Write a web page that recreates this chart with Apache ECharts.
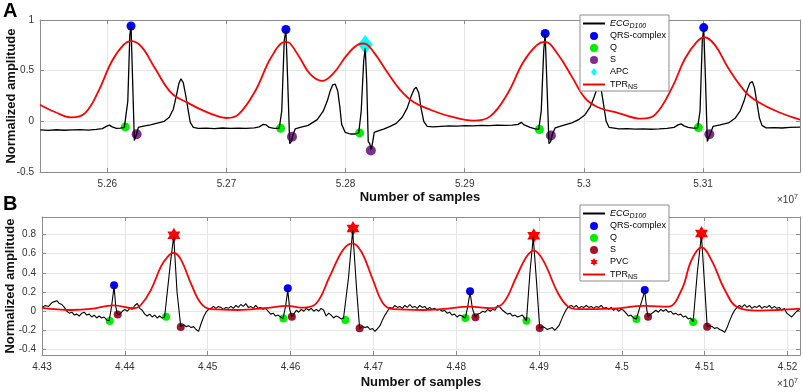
<!DOCTYPE html>
<html>
<head>
<meta charset="utf-8">
<script src="https://cdn.jsdelivr.net/npm/echarts@6/dist/echarts.min.js"></script>
<style>html,body{margin:0;padding:0;background:#fff}#chart{width:803px;height:392px}</style>
</head>
<body>
<div id="chart"></div>
<script>
// x values are in units of 10^7 samples

// ---- panel A ----
const xTicksA = [5.26, 5.27, 5.28, 5.29, 5.30, 5.31];
const yTicksA = [-0.5, 0, 0.5, 1];
const ecgA = [
  [5.25438,-0.085],[5.25505,-0.09],[5.25572,-0.083],[5.25639,-0.088],[5.25706,-0.085],[5.25773,-0.082],[5.25841,-0.086],[5.25908,-0.08],
  [5.25958,-0.072],[5.25992,-0.05],[5.26017,-0.038],[5.26042,-0.055],[5.26076,-0.07],[5.26109,-0.068],[5.26143,-0.06],[5.26159,-0.05],
  [5.26172,0.2],[5.26189,0.85],[5.26199,0.935],[5.26210,0.5],[5.26227,-0.19],[5.26237,-0.2],[5.26247,-0.12],[5.26260,-0.06],
  [5.26294,-0.05],[5.26361,-0.035],[5.26428,-0.015],[5.26478,0.0],[5.26520,0.04],[5.26554,0.12],[5.26579,0.25],[5.26600,0.37],
  [5.26618,0.42],[5.26638,0.38],[5.26659,0.25],[5.26680,0.1],[5.26696,-0.01],[5.26722,-0.06],[5.26763,-0.07],[5.26831,-0.068],
  [5.26898,-0.072],[5.26965,-0.066],[5.27032,-0.07],[5.27099,-0.067],[5.27166,-0.069],[5.27233,-0.065],[5.27275,-0.055],[5.27309,-0.03],
  [5.27334,-0.035],[5.27359,-0.06],[5.27401,-0.07],[5.27443,-0.068],[5.27464,0.1],[5.27485,0.8],[5.27499,0.9],[5.27514,0.4],
  [5.27531,-0.22],[5.27544,-0.2],[5.27556,-0.14],[5.27577,-0.075],[5.27619,-0.06],[5.27686,-0.04],[5.27762,0.017],[5.27812,0.1],
  [5.27846,0.2],[5.27871,0.3],[5.27892,0.36],[5.27913,0.367],[5.27934,0.3],[5.27951,0.15],[5.27967,-0.03],[5.27997,-0.11],
  [5.28039,-0.125],[5.28081,-0.125],[5.28110,-0.115],[5.28131,0.1],[5.28152,0.6],[5.28165,0.72],[5.28177,0.4],[5.28190,-0.2],
  [5.28203,-0.22],[5.28215,-0.28],[5.28228,-0.2],[5.28240,-0.11],[5.28274,-0.095],[5.28324,-0.075],[5.28374,-0.05],[5.28425,-0.02],
  [5.28475,0.04],[5.28517,0.13],[5.28551,0.25],[5.28576,0.32],[5.28593,0.337],[5.28614,0.28],[5.28635,0.12],[5.28656,0.0],
  [5.28685,-0.05],[5.28735,-0.055],[5.28802,-0.05],[5.28869,-0.045],[5.28936,-0.048],[5.29004,-0.042],[5.29071,-0.045],[5.29138,-0.04],
  [5.29205,-0.043],[5.29272,-0.038],[5.29339,-0.04],[5.29398,-0.037],[5.29448,-0.03],[5.29474,-0.01],[5.29499,-0.035],[5.29549,-0.06],
  [5.29591,-0.075],[5.29621,-0.08],[5.29642,0.1],[5.29663,0.7],[5.29675,0.86],[5.29692,0.3],[5.29707,-0.22],[5.29721,-0.2],
  [5.29734,-0.13],[5.29759,-0.065],[5.29826,-0.04],[5.29899,-0.016],[5.29960,0.02],[5.30010,0.066],[5.30052,0.14],[5.30086,0.24],
  [5.30115,0.34],[5.30136,0.38],[5.30161,0.2],[5.30187,0.0],[5.30212,-0.06],[5.30295,-0.075],[5.30363,-0.072],[5.30430,-0.077],
  [5.30497,-0.074],[5.30564,-0.078],[5.30631,-0.075],[5.30698,-0.07],[5.30757,-0.06],[5.30791,-0.035],[5.30816,-0.025],[5.30841,-0.045],
  [5.30875,-0.06],[5.30917,-0.068],[5.30954,-0.065],[5.30975,0.1],[5.30994,0.8],[5.31006,0.915],[5.31021,0.4],[5.31036,-0.2],
  [5.31049,-0.19],[5.31062,-0.12],[5.31084,-0.05],[5.31143,-0.035],[5.31213,-0.016],[5.31269,0.03],[5.31311,0.1],[5.31344,0.2],
  [5.31374,0.32],[5.31395,0.38],[5.31414,0.392],[5.31432,0.33],[5.31453,0.18],[5.31474,0.03],[5.31495,-0.04],[5.31529,-0.065],
  [5.31596,-0.062],[5.31663,-0.066],[5.31730,-0.06],[5.31814,-0.058]
];
const tprA = [
  [5.25435,0.164],[5.25561,0.092],[5.25700,0.039],[5.25813,0.082],[5.25924,0.294],[5.26036,0.588],[5.26134,0.752],[5.26199,0.791],
  [5.26288,0.735],[5.26400,0.523],[5.26539,0.278],[5.26680,0.18],[5.26820,0.098],[5.26931,0.049],[5.27001,0.033],[5.27099,0.066],
  [5.27239,0.294],[5.27378,0.637],[5.27496,0.784],[5.27535,0.768],[5.27619,0.62],[5.27703,0.465],[5.27801,0.399],[5.27899,0.475],
  [5.28011,0.654],[5.28108,0.759],[5.28156,0.768],[5.28234,0.686],[5.28347,0.49],[5.28458,0.31],[5.28570,0.19],[5.28710,0.115],
  [5.28878,0.049],[5.29073,0.007],[5.29213,0.049],[5.29354,0.262],[5.29493,0.588],[5.29605,0.752],[5.29675,0.784],[5.29786,0.654],
  [5.29899,0.441],[5.30010,0.229],[5.30122,0.137],[5.30290,0.082],[5.30486,0.026],[5.30598,0.066],[5.30738,0.327],[5.30849,0.62],
  [5.30948,0.784],[5.31011,0.83],[5.31101,0.752],[5.31213,0.523],[5.31353,0.294],[5.31464,0.19],[5.31632,0.092],[5.31814,0.017]
];
const qrsA = [[5.26199,0.941],[5.27499,0.906],[5.29675,0.867],[5.31006,0.925]];
const qA = [[5.26151,-0.055],[5.27454,-0.068],[5.28117,-0.114],[5.29627,-0.081],[5.30961,-0.062]];
const sA = [[5.26246,-0.127],[5.27550,-0.153],[5.28212,-0.287],[5.29723,-0.14],[5.31053,-0.127]];
const apcA = [[5.28165,0.759]];

// ---- panel B ----
const xTicksB = [4.43, 4.44, 4.45, 4.46, 4.47, 4.48, 4.49, 4.50, 4.51, 4.52];
const yTicksB = [-0.4, -0.2, 0, 0.2, 0.4, 0.6, 0.8];
const ecgB = [
  [4.4300,0.04],[4.4304,0.06],[4.4308,0.05],[4.4312,0.09],[4.4315,0.1],[4.4318,0.11],[4.4321,0.08],[4.4324,0.07],[4.4327,0.04],[4.4330,0.0],
  [4.4333,-0.02],[4.4336,-0.01],[4.4339,-0.04],[4.4342,-0.03],[4.4345,-0.05],[4.4348,-0.02],[4.4351,-0.01],[4.4354,-0.04],[4.4357,-0.03],[4.4360,-0.06],
  [4.4363,-0.04],[4.4366,-0.07],[4.4369,-0.05],[4.4372,-0.07],[4.4375,-0.06],[4.4378,-0.09],[4.4381,-0.1],[4.4384,0.05],[4.4387,0.26],[4.4389,0.05],
  [4.4391,-0.03],[4.4394,-0.03],[4.4397,0.0],[4.4400,0.02],[4.4403,0.0],[4.4406,0.03],[4.4409,0.02],[4.4412,0.06],[4.4415,0.08],[4.4418,0.03],
  [4.4421,0.01],[4.4424,-0.03],[4.4427,-0.05],[4.4430,-0.03],[4.4433,-0.06],[4.4436,-0.04],[4.4439,-0.07],[4.4442,-0.05],[4.4445,-0.07],[4.4448,-0.06],
  [4.4450,-0.058],[4.4455,0.5],[4.4459,0.78],[4.4463,0.2],[4.44675,-0.16],[4.4471,-0.14],[4.4474,-0.16],[4.4477,-0.15],[4.4480,-0.17],[4.4483,-0.16],
  [4.4486,-0.19],[4.4489,-0.21],[4.4492,-0.13],[4.4495,-0.06],[4.4498,-0.01],[4.4501,0.02],[4.4504,0.03],[4.4507,0.05],[4.4510,0.03],[4.4513,0.05],
  [4.4516,0.04],[4.4519,0.02],[4.4522,0.04],[4.4525,0.03],[4.4528,0.05],[4.4531,0.03],[4.4534,0.06],[4.4537,0.04],[4.4540,0.07],[4.4543,0.05],
  [4.4546,0.08],[4.4549,0.04],[4.4552,0.05],[4.4555,0.03],[4.4558,0.06],[4.4561,0.03],[4.4564,0.04],[4.4567,0.02],[4.4570,0.03],[4.4573,0.0],
  [4.4576,-0.03],[4.4579,-0.02],[4.4582,-0.05],[4.4585,-0.04],[4.4588,-0.06],[4.4591,-0.075],[4.4594,0.05],[4.45967,0.22],[4.4599,0.02],[4.46015,-0.058],
  [4.4604,-0.03],[4.4607,0.01],[4.4610,-0.01],[4.4613,0.02],[4.4616,0.0],[4.4619,0.03],[4.4622,0.01],[4.4625,0.03],[4.4628,0.0],[4.4631,0.02],
  [4.4634,0.0],[4.4637,0.03],[4.4640,0.01],[4.4643,-0.05],[4.4646,-0.02],[4.4649,-0.04],[4.4652,-0.07],[4.4655,-0.05],[4.4658,-0.06],[4.4661,-0.08],
  [4.4664,-0.07],[4.46662,-0.09],[4.4670,0.35],[4.4675,0.84],[4.4680,0.2],[4.46834,-0.176],[4.4687,-0.16],[4.4690,-0.17],[4.4693,-0.16],[4.4696,-0.19],
  [4.4699,-0.18],[4.4702,-0.21],[4.4705,-0.18],[4.4708,-0.15],[4.4711,-0.09],[4.4714,-0.04],[4.4717,0.0],[4.4720,0.04],[4.4723,0.03],[4.4726,0.06],
  [4.4729,0.04],[4.4732,0.05],[4.4735,0.03],[4.4738,0.06],[4.4741,0.04],[4.4744,0.07],[4.4747,0.04],[4.4750,0.05],[4.4753,0.03],[4.4756,0.06],
  [4.4759,0.04],[4.4762,0.05],[4.4765,0.02],[4.4768,0.04],[4.4771,0.02],[4.4774,0.03],[4.4777,0.01],[4.4780,0.02],[4.4783,0.0],[4.4786,0.01],
  [4.4789,-0.02],[4.4792,-0.01],[4.4795,-0.04],[4.4798,-0.03],[4.4801,-0.06],[4.4804,-0.04],[4.4807,-0.05],[4.4811,-0.07],[4.4814,0.05],[4.48167,0.2],
  [4.48195,0.03],[4.4823,-0.06],[4.4826,-0.03],[4.4829,-0.02],[4.4832,0.0],[4.4835,-0.01],[4.4838,0.02],[4.4841,0.0],[4.4844,0.02],[4.4847,0.01],
  [4.4850,0.06],[4.4853,0.04],[4.4856,0.01],[4.4859,-0.01],[4.4862,-0.03],[4.4865,-0.02],[4.4868,-0.05],[4.4871,-0.04],[4.4874,-0.06],[4.4877,-0.05],
  [4.4880,-0.04],[4.48848,-0.1],[4.4889,0.4],[4.4893,0.77],[4.4897,0.3],[4.49008,-0.173],[4.4904,-0.16],[4.4907,-0.17],[4.4910,-0.19],[4.4913,-0.18],
  [4.4916,-0.17],[4.4919,-0.2],[4.4921,-0.22],[4.4924,-0.15],[4.4927,-0.09],[4.4930,-0.03],[4.4933,0.02],[4.4936,0.05],[4.4939,0.06],[4.4942,0.04],
  [4.4945,0.06],[4.4948,0.03],[4.4951,0.05],[4.4954,0.04],[4.4957,0.06],[4.4960,0.04],[4.4963,0.05],[4.4966,0.03],[4.4969,0.05],[4.4972,0.04],
  [4.4975,0.06],[4.4978,0.03],[4.4981,0.04],[4.4984,0.02],[4.4987,0.04],[4.4990,0.01],[4.4993,0.03],[4.4996,0.0],[4.4999,0.02],[4.5002,0.01],
  [4.5005,-0.02],[4.5008,-0.05],[4.5011,-0.04],[4.5014,-0.07],[4.50176,-0.08],[4.5022,0.05],[4.50276,0.21],[4.5030,0.02],[4.50316,-0.056],[4.5035,-0.03],
  [4.5038,-0.01],[4.5041,0.01],[4.5044,-0.01],[4.5047,0.02],[4.5050,0.0],[4.5053,0.02],[4.5056,-0.01],[4.5059,0.0],[4.5062,-0.03],[4.5065,-0.02],
  [4.5068,-0.04],[4.5071,-0.03],[4.5074,-0.06],[4.5077,-0.05],[4.5080,-0.08],[4.5083,-0.07],[4.5086,-0.11],[4.5091,0.4],[4.5096,0.79],[4.5100,0.25],
  [4.5103,-0.16],[4.5106,-0.15],[4.5109,-0.16],[4.5112,-0.18],[4.5115,-0.17],[4.5118,-0.19],[4.5121,-0.2],[4.5124,-0.22],[4.5127,-0.17],[4.5130,-0.1],
  [4.5133,-0.04],[4.5136,0.01],[4.5139,0.04],[4.5142,0.06],[4.5145,0.04],[4.5148,0.07],[4.5151,0.04],[4.5154,0.06],[4.5157,0.03],[4.5160,0.05],
  [4.5163,0.04],[4.5166,0.06],[4.5169,0.03],[4.5172,0.05],[4.5175,0.04],[4.5178,0.06],[4.5181,0.03],[4.5184,0.05],[4.5187,0.03],[4.5190,0.04],
  [4.5193,0.01],[4.5196,0.03],[4.5199,-0.02],[4.5202,-0.04],[4.5205,-0.06],[4.5208,-0.03],[4.5211,0.0],[4.5215,0.02]
];
const tprB = [
  [4.43000,0.035],[4.43348,0.013],[4.43589,0.024],[4.43864,0.062],[4.44114,0.031],[4.44193,0.065],[4.44314,0.22],[4.44435,0.463],
  [4.44516,0.566],[4.44588,0.608],[4.44676,0.539],[4.44797,0.29],[4.44918,0.083],[4.45039,0.021],[4.45361,0.013],[4.45684,0.031],
  [4.45965,0.055],[4.46150,0.037],[4.46312,0.083],[4.46472,0.359],[4.46633,0.636],[4.46746,0.705],[4.46855,0.618],[4.46995,0.325],
  [4.47116,0.083],[4.47237,0.021],[4.47599,0.013],[4.47841,0.024],[4.48163,0.048],[4.48404,0.031],[4.48565,0.083],[4.48727,0.359],
  [4.48848,0.566],[4.48936,0.63],[4.49048,0.532],[4.49229,0.187],[4.49350,0.048],[4.49471,0.021],[4.49874,0.027],[4.50276,0.055],
  [4.50558,0.048],[4.50720,0.221],[4.50840,0.532],[4.50961,0.664],[4.51082,0.532],[4.51243,0.221],[4.51403,0.037],[4.51645,0.006],
  [4.51886,0.013],[4.52148,0.027]
];
const qrsB = [[4.43870,0.27],[4.45967,0.238],[4.48167,0.207],[4.50276,0.221]];
const qB = [[4.43818,-0.102],[4.44498,-0.058],[4.45914,-0.075],[4.46662,-0.09],[4.48111,-0.07],[4.48848,-0.1],[4.50176,-0.08],[4.50860,-0.111]];
const sB = [[4.43914,-0.033],[4.44675,-0.163],[4.46016,-0.058],[4.46834,-0.176],[4.48232,-0.062],[4.49008,-0.173],[4.50316,-0.056],[4.51029,-0.16]];
const pvcB = [[4.44592,0.79],[4.46754,0.861],[4.48936,0.784],[4.50961,0.809]];

const FONT = '"Liberation Sans", Arial, sans-serif';
const axisCol = '#8c8c8c';
const gridCol = '#e6e6e6';
const hexagram = 'path://M100 0L128.9 50L186.6 50L157.7 100L186.6 150L128.9 150L100 200L71.1 150L13.4 150L42.3 100L13.4 50L71.1 50Z';
const diamondIcon = 'path://M4 0L8 5.5L4 11L0 5.5Z';

function xAxes(grid, min, max, ticks, nameGap) {
  return [{
    type: 'value', gridIndex: grid, min: min, max: max, position: 'bottom',
    name: 'Number of samples', nameLocation: 'middle', nameGap: nameGap, nameMoveOverlap: false,
    nameTextStyle: {fontFamily: FONT, fontSize: 13, fontWeight: 'bold', color: '#111'},
    axisLine: {onZero: false, lineStyle: {color: axisCol}},
    axisTick: {inside: true, length: 4, customValues: ticks, lineStyle: {color: axisCol}},
    axisLabel: {customValues: ticks, margin: 7, fontFamily: FONT, fontSize: 10, color: '#333'},
    splitLine: {show: true, lineStyle: {color: gridCol}}
  }, {
    type: 'value', gridIndex: grid, min: min, max: max, position: 'top',
    axisLine: {onZero: false, lineStyle: {color: axisCol}},
    axisTick: {inside: true, length: 4, customValues: ticks, lineStyle: {color: axisCol}},
    axisLabel: {show: false}, splitLine: {show: false}
  }];
}
function yAxes(grid, min, max, ticks, nameGap) {
  return [{
    type: 'value', gridIndex: grid, min: min, max: max, position: 'left',
    name: 'Normalized amplitude', nameLocation: 'middle', nameGap: nameGap, nameMoveOverlap: false,
    nameTextStyle: {fontFamily: FONT, fontSize: 13, fontWeight: 'bold', color: '#111'},
    axisLine: {show: true, onZero: false, lineStyle: {color: axisCol}},
    axisTick: {show: true, inside: true, length: 4, customValues: ticks, lineStyle: {color: axisCol}},
    axisLabel: {customValues: ticks, margin: 6, fontFamily: FONT, fontSize: 10, color: '#333'},
    splitLine: {show: true, lineStyle: {color: gridCol}}
  }, {
    type: 'value', gridIndex: grid, min: min, max: max, position: 'right',
    axisLine: {show: true, onZero: false, lineStyle: {color: axisCol}},
    axisTick: {show: true, inside: true, length: 4, customValues: ticks, lineStyle: {color: axisCol}},
    axisLabel: {show: false}, splitLine: {show: false}
  }];
}

const legendNames = {
  ECG_A: '{it|ECG}{itsub|D100}', ECG_B: '{it|ECG}{itsub|D100}',
  QRS_A: 'QRS-complex', QRS_B: 'QRS-complex',
  Q_A: 'Q', Q_B: 'Q', S_A: 'S', S_B: 'S',
  APC: 'APC', PVC: 'PVC',
  TPR_A: 'TPR{sub|NS}', TPR_B: 'TPR{sub|NS}'
};
// line entries: hide the symbol that ECharts puts on a line icon
const plainLine = name => ({name: name, itemStyle: {opacity: 0}});
function legend(top, items) {
  return {
    left: 580, top: top, orient: 'vertical', align: 'left',
    itemWidth: 22, itemHeight: 8, itemGap: 0, padding: [2, 3, 0, 2],
    backgroundColor: '#fff', borderColor: '#8c8c8c', borderWidth: 1,
    selectedMode: false, data: items,
    formatter: n => legendNames[n],
    textStyle: {
      fontFamily: FONT, fontSize: 9, lineHeight: 12, color: '#000',
      rich: {
        it: {fontFamily: FONT, fontStyle: 'italic', fontSize: 9, lineHeight: 12},
        itsub: {fontFamily: FONT, fontStyle: 'italic', fontSize: 7, lineHeight: 8, padding: [6, 0, 0, 0]},
        sub: {fontFamily: FONT, fontSize: 7, lineHeight: 8, padding: [6, 0, 0, 0]}
      }
    }
  };
}
function line(name, xi, yi, data, color, width, smooth) {
  return {name: name, type: 'line', xAxisIndex: xi, yAxisIndex: yi, data: data,
    symbol: 'none', smooth: smooth || false, lineStyle: {color: color, width: width},
    itemStyle: {color: color}};
}
function dots(name, xi, yi, data, color, symbol, size) {
  return {name: name, type: 'scatter', xAxisIndex: xi, yAxisIndex: yi, data: data,
    symbol: symbol, symbolSize: size, symbolKeepAspect: true, itemStyle: {color: color, opacity: 1}};
}

const chart = echarts.init(document.getElementById('chart'));
chart.setOption({
  animation: false,
  backgroundColor: '#fff',
  grid: [
    {left: 40, top: 20, width: 760, height: 152, containLabel: false, outerBoundsMode: 'none'},
    {left: 42, top: 217, width: 758, height: 138, containLabel: false, outerBoundsMode: 'none'}
  ],
  xAxis: [].concat(xAxes(0, 5.25435, 5.31814, xTicksA, 19), xAxes(1, 4.43, 4.5215, xTicksB, 21)),
  yAxis: [].concat(yAxes(0, -0.5, 1, yTicksA, 22), yAxes(1, -0.455, 0.98, yTicksB, 25)),
  legend: [
    legend(15, [plainLine('ECG_A'), 'QRS_A', 'Q_A', 'S_A', {name: 'APC', icon: diamondIcon}, plainLine('TPR_A')]),
    legend(205, [plainLine('ECG_B'), 'QRS_B', 'Q_B', 'S_B', 'PVC', plainLine('TPR_B')])
  ],
  graphic: [
    {type: 'text', left: 3, top: 1, style: {text: 'A', font: 'bold 20px "Liberation Sans", Arial', fill: '#000'}},
    {type: 'text', left: 3, top: 194, style: {text: 'B', font: 'bold 20px "Liberation Sans", Arial', fill: '#000'}},
    {type: 'text', left: 777, top: 194, style: {text: '×10{sup|7}', font: '10px "Liberation Sans", Arial', fill: '#333',
      rich: {sup: {fontSize: 7, fill: '#333', padding: [0, 0, 6, 0]}}}},
    {type: 'text', left: 777, top: 378, style: {text: '×10{sup|7}', font: '10px "Liberation Sans", Arial', fill: '#333',
      rich: {sup: {fontSize: 7, fill: '#333', padding: [0, 0, 6, 0]}}}}
  ],
  series: [
    line('ECG_A', 0, 0, ecgA, '#000', 1.3),
    line('TPR_A', 0, 0, tprA, '#ff0000', 1.8, 0.4),
    dots('QRS_A', 0, 0, qrsA, '#0000ff', 'circle', 9),
    dots('Q_A', 0, 0, qA, '#00ee00', 'circle', 9),
    dots('S_A', 0, 0, sA, '#7e2f8e', 'circle', 10),
    dots('APC', 0, 0, apcA, '#00ffff', 'diamond', [15, 19]),
    line('ECG_B', 2, 2, ecgB, '#000', 1.1),
    line('TPR_B', 2, 2, tprB, '#ff0000', 1.8, 0.4),
    dots('QRS_B', 2, 2, qrsB, '#0000ff', 'circle', 8),
    dots('Q_B', 2, 2, qB, '#00ee00', 'circle', 8),
    dots('S_B', 2, 2, sB, '#a2142f', 'circle', 8),
    dots('PVC', 2, 2, pvcB, '#ff0000', hexagram, 15)
  ]
});
</script>
</body>
</html>
